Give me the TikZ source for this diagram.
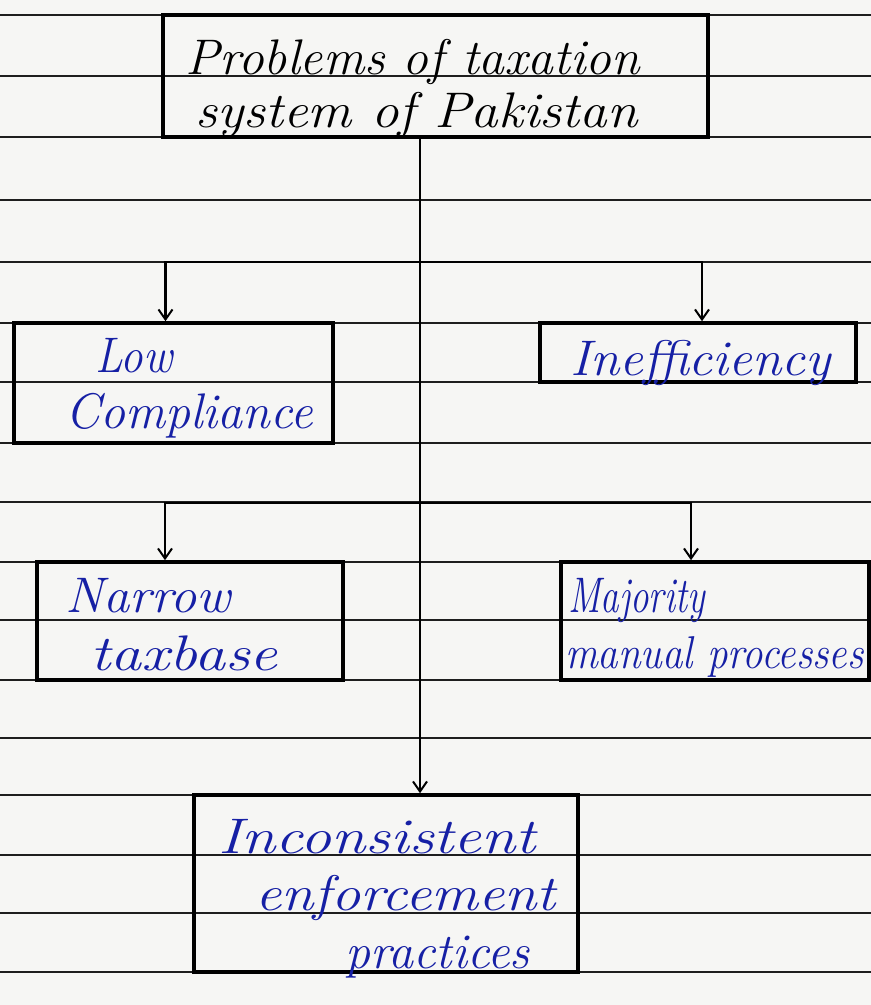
\documentclass[tikz,border=0pt]{standalone}
\usepackage{fontspec}
\usetikzlibrary{arrows.meta,calc}
\definecolor{ink}{RGB}{22,32,165}
\definecolor{paper}{RGB}{246,246,244}
\definecolor{rule}{RGB}{30,30,30}
\newcommand{\hsq}[2]{\scalebox{#1}[1]{#2}}
\begin{document}
\begin{tikzpicture}[x=1pt,y=-1pt,
  box/.style={draw=black,line width=3.6pt,inner sep=0pt},
  conn/.style={draw=black,line width=2.2pt},
  arr/.style={conn,-{Straight Barb[length=10pt,width=14pt,line width=2pt]}},
  hand/.style={anchor=base west,inner sep=0pt,font=\fontsize{50}{56}\selectfont\itshape},
  blue/.style={hand,text=ink}]
\useasboundingbox (0,0) rectangle (871,1005);
\fill[paper] (0,0) rectangle (871,1005);
% ruled paper lines
\foreach \yy in {15,76,137,200,262,323,382,443,502,562,620,680,738,795,855,913,972}
  \draw[rule,line width=2.4pt] (0,\yy) -- (871,\yy);
% boxes
\node[box,minimum width=545,minimum height=122] (top) at (435.5,76) {};
\node[box,minimum width=319,minimum height=120] (low) at (173.5,383) {};
\node[box,minimum width=316,minimum height=59] (ineff) at (698,352.5) {};
\node[box,minimum width=306,minimum height=118] (narrow) at (190,621) {};
\node[box,minimum width=308,minimum height=118] (major) at (715,621) {};
\node[box,minimum width=384,minimum height=177] (bot) at (386,883.5) {};
% texts
\node[hand] (t1) at (185,74) {\hsq{1.03}{Problems of taxation}};
\node[hand] (t2) at (195,127) {\hsq{1.1}{system of Pakistan}};
\node[blue] (l1) at (95,372) {\hsq{0.9}{Low}};
\node[blue] (l2) at (65,428) {Compliance};
\node[blue] (i1) at (570,375) {\hsq{1.06}{Inefficiency}};
\node[blue] (n1) at (65,612) {\hsq{1.05}{Narrow}};
\node[blue] (n2) at (90,670) {\hsq{1.24}{taxbase}};
\node[blue] (m1) at (568,612) {\hsq{0.74}{Majority}};
\node[blue,font=\fontsize{46}{52}\selectfont\itshape] (m2) at (565,668) {\hsq{0.89}{manual processes}};
\node[blue] (b1) at (218,853) {\hsq{1.24}{Inconsistent}};
\node[blue] (b2) at (255,910) {\hsq{1.17}{enforcement}};
\node[blue] (b3) at (345,968) {practices};
% connectors
\coordinate (tk) at (420,0);
\coordinate (j1) at (420,262);
\coordinate (j2) at (420,503);
\draw[arr] (top.south -| tk) -- (bot.north -| tk);
\draw[arr] (j1) -| ($(low.north)+(-8,0)$);
\draw[arr] (j1) -| ($(ineff.north)+(4,0)$);
\draw[arr] (j2) -| ($(narrow.north)+(-25,0)$);
\draw[arr] (j2) -| ($(major.north)+(-24,0)$);
\end{tikzpicture}
\end{document}
